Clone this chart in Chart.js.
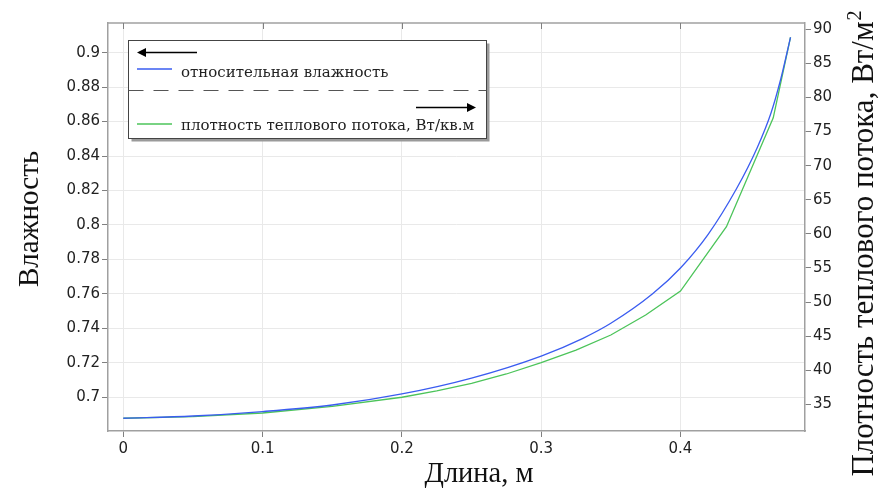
<!DOCTYPE html>
<html>
<head>
<meta charset="utf-8">
<script src="https://cdn.jsdelivr.net/npm/chart.js@4.4.1/dist/chart.umd.min.js"></script>
<style>
  html, body { margin: 0; padding: 0; background: #ffffff; }
  #wrap { width: 880px; height: 488px; }
</style>
</head>
<body>
<div id="wrap"><canvas id="chart" width="880" height="488"></canvas></div>
<script>
// Length along the element, m (humidity curve)
const lengthHumidity = [0, 0.05, 0.1, 0.15, 0.2, 0.25, 0.3, 0.33, 0.35, 0.38, 0.4, 0.42, 0.44, 0.455, 0.465, 0.472, 0.479];
// Relative humidity
const humidity = [0.6878, 0.6891, 0.6917, 0.6955, 0.7019, 0.7111, 0.7239, 0.7342, 0.7429, 0.7600, 0.7750, 0.7947, 0.8207, 0.8447, 0.8650, 0.8847, 0.9089];

// Length along the element, m (heat flux curve)
const lengthFlux = [0, 0.05, 0.1, 0.15, 0.2, 0.225, 0.25, 0.275, 0.3, 0.325, 0.35, 0.375, 0.4, 0.433, 0.4666, 0.479];
// Heat flux density, W/m2
const heatFlux = [32.95, 33.18, 33.72, 34.68, 36.03, 36.95, 38.08, 39.44, 41.10, 42.93, 45.16, 48.09, 51.61, 61.04, 77.02, 88.83];

// Tick values for the three axes
const lengthTicks = [0, 0.1, 0.2, 0.3, 0.4];
const humidityTicks = [0.7, 0.72, 0.74, 0.76, 0.78, 0.8, 0.82, 0.84, 0.86, 0.88, 0.9];
const fluxTicks = [35, 40, 45, 50, 55, 60, 65, 70, 75, 80, 85, 90];

// Text
const xTitle = 'Длина, м';
const yTitle = 'Влажность';
const y1Title = 'Плотность теплового потока, Вт/м';
const y1TitleSup = '2';
const legendHumidity = 'относительная влажность';
const legendFlux = 'плотность теплового потока, Вт/кв.м';

const BLUE = '#3a5cf0';
const GREEN = '#4cc45a';
const GRID = '#e9e9e9';
const FRAME = '#a0a0a0';
const TICKMARK = '#808080';
const TICK_FONT = { family: '"DejaVu Sans", sans-serif', size: 15 };

const toPoints = (xs, ys) => xs.map((x, i) => ({ x: x, y: ys[i] }));
const fmt = v => String(+v.toFixed(2));

// Frame top edge, inner ticks, titles and the two-part legend
const decorations = {
  id: 'decorations',
  afterDraw(chart) {
    const ctx = chart.ctx;
    const a = chart.chartArea;
    const xs = chart.scales.x;
    ctx.save();

    // top border with inward ticks
    ctx.strokeStyle = FRAME;
    ctx.lineWidth = 1.5;
    ctx.beginPath();
    ctx.moveTo(a.left, a.top);
    ctx.lineTo(a.right, a.top);
    ctx.stroke();
    ctx.strokeStyle = TICKMARK;
    ctx.lineWidth = 1;
    lengthTicks.forEach(v => {
      const px = Math.round(xs.getPixelForValue(v)) + 0.5;
      ctx.beginPath();
      ctx.moveTo(px, a.top);
      ctx.lineTo(px, a.top + 6);
      ctx.stroke();
    });

    // axis titles
    ctx.fillStyle = '#111';
    ctx.textBaseline = 'alphabetic';
    ctx.textAlign = 'center';
    ctx.font = '28.5px "Liberation Serif", serif';
    ctx.fillText(xTitle, 479, 482);

    ctx.save();
    ctx.font = '29px "Liberation Serif", serif';
    ctx.translate(38, 219);
    ctx.rotate(-Math.PI / 2);
    ctx.fillText(yTitle, 0, 0);
    ctx.restore();

    // right title: main text plus raised exponent
    ctx.save();
    ctx.translate(873, 244);
    ctx.rotate(-Math.PI / 2);
    ctx.font = '31px "Liberation Serif", serif';
    const mainW = ctx.measureText(y1Title).width;
    ctx.font = '20px "Liberation Serif", serif';
    const supW = ctx.measureText(y1TitleSup).width;
    const startX = -(mainW + supW) / 2;
    ctx.textAlign = 'left';
    ctx.font = '31px "Liberation Serif", serif';
    ctx.fillText(y1Title, startX, 0);
    ctx.font = '20px "Liberation Serif", serif';
    ctx.fillText(y1TitleSup, startX + mainW + 1, -12);
    ctx.restore();

    // legend box with shadow
    const bx = 128.5, by = 40.5, bw = 358, bh = 98;
    ctx.fillStyle = '#9a9a9a';
    ctx.fillRect(bx + 3, by + 3, bw, bh);
    ctx.fillStyle = '#ffffff';
    ctx.fillRect(bx, by, bw, bh);
    ctx.strokeStyle = '#444';
    ctx.lineWidth = 1;
    ctx.strokeRect(bx, by, bw, bh);

    // left arrow (left axis series)
    ctx.strokeStyle = '#000';
    ctx.fillStyle = '#000';
    ctx.lineWidth = 1.6;
    ctx.beginPath();
    ctx.moveTo(197, 52.5);
    ctx.lineTo(143, 52.5);
    ctx.stroke();
    ctx.beginPath();
    ctx.moveTo(137, 52.5);
    ctx.lineTo(146, 48);
    ctx.lineTo(146, 57);
    ctx.closePath();
    ctx.fill();

    // humidity entry
    ctx.strokeStyle = BLUE;
    ctx.lineWidth = 1.4;
    ctx.beginPath();
    ctx.moveTo(137, 69);
    ctx.lineTo(172, 69);
    ctx.stroke();
    ctx.fillStyle = '#222';
    ctx.font = '15px "DejaVu Serif", serif';
    ctx.textAlign = 'left';
    ctx.fillText(legendHumidity, 181, 77);

    // dashed separator
    ctx.strokeStyle = '#555';
    ctx.lineWidth = 1;
    ctx.setLineDash([15, 10]);
    ctx.beginPath();
    ctx.moveTo(bx, 90.5);
    ctx.lineTo(bx + bw, 90.5);
    ctx.stroke();
    ctx.setLineDash([]);

    // right arrow (right axis series)
    ctx.strokeStyle = '#000';
    ctx.fillStyle = '#000';
    ctx.lineWidth = 1.6;
    ctx.beginPath();
    ctx.moveTo(416, 107.5);
    ctx.lineTo(470, 107.5);
    ctx.stroke();
    ctx.beginPath();
    ctx.moveTo(476, 107.5);
    ctx.lineTo(467, 103);
    ctx.lineTo(467, 112);
    ctx.closePath();
    ctx.fill();

    // heat flux entry
    ctx.strokeStyle = GREEN;
    ctx.lineWidth = 1.4;
    ctx.beginPath();
    ctx.moveTo(137, 124);
    ctx.lineTo(172, 124);
    ctx.stroke();
    ctx.fillStyle = '#222';
    ctx.fillText(legendFlux, 181, 130);

    ctx.restore();
  }
};

new Chart(document.getElementById('chart'), {
  type: 'line',
  data: {
    datasets: [
      {
        label: legendHumidity,
        data: toPoints(lengthHumidity, humidity),
        yAxisID: 'y',
        borderColor: BLUE,
        borderWidth: 1.3,
        pointRadius: 0,
        cubicInterpolationMode: 'monotone',
        fill: false
      },
      {
        label: legendFlux,
        data: toPoints(lengthFlux, heatFlux),
        yAxisID: 'y1',
        borderColor: GREEN,
        borderWidth: 1.3,
        pointRadius: 0,
        tension: 0,
        fill: false
      }
    ]
  },
  options: {
    responsive: false,
    animation: false,
    devicePixelRatio: 1,
    layout: { padding: { top: 23, left: 0, right: 0, bottom: 0 } },
    plugins: {
      legend: { display: false },
      tooltip: { enabled: false },
      title: { display: false }
    },
    scales: {
      x: {
        type: 'linear',
        position: 'bottom',
        min: -0.011,
        max: 0.4894,
        afterBuildTicks: s => { s.ticks = lengthTicks.map(v => ({ value: v })); },
        afterFit: s => { s.height = 57; },
        ticks: { font: TICK_FONT, color: '#222', padding: 3, maxRotation: 0, callback: v => fmt(v) },
        grid: { color: GRID, tickColor: TICKMARK, tickLength: 6, lineWidth: 1 },
        border: { color: FRAME, width: 1.5 }
      },
      y: {
        type: 'linear',
        position: 'left',
        min: 0.6804,
        max: 0.9172,
        afterBuildTicks: s => { s.ticks = humidityTicks.map(v => ({ value: v })); },
        afterFit: s => { s.width = 108; },
        ticks: { font: TICK_FONT, color: '#222', padding: 2, callback: v => fmt(v) },
        grid: { color: GRID, tickColor: TICKMARK, tickLength: 6, lineWidth: 1 },
        border: { color: FRAME, width: 1.5 }
      },
      y1: {
        type: 'linear',
        position: 'right',
        min: 31.08,
        max: 90.92,
        afterBuildTicks: s => { s.ticks = fluxTicks.map(v => ({ value: v })); },
        afterFit: s => { s.width = 75; },
        ticks: { font: TICK_FONT, color: '#222', padding: 2, callback: v => fmt(v) },
        grid: { drawOnChartArea: false, tickColor: TICKMARK, tickLength: 6 },
        border: { color: FRAME, width: 1.5 }
      }
    }
  },
  plugins: [decorations]
});
</script>
</body>
</html>
